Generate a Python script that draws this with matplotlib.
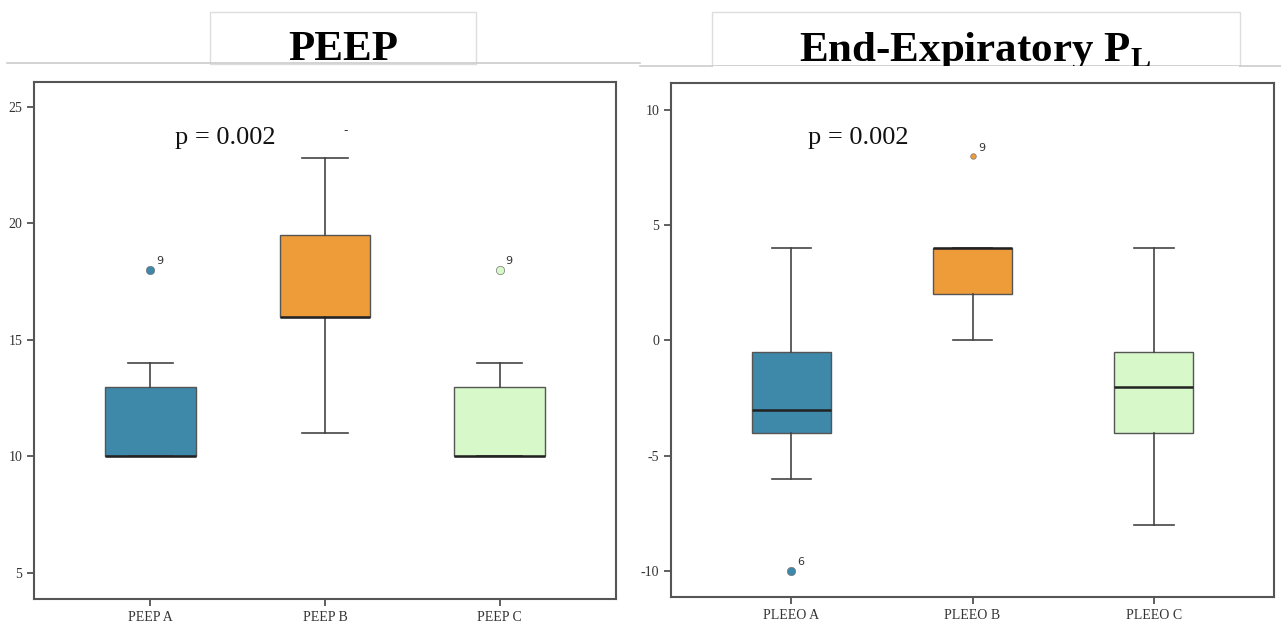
import matplotlib
matplotlib.use("Agg")
import matplotlib.pyplot as plt
from matplotlib.patches import Rectangle
from matplotlib.lines import Line2D

# box summary values
peep_labels = ["PEEP A", "PEEP B", "PEEP C"]
peep_q1 = [10, 16, 10]
peep_med = [10, 16, 10]
peep_q3 = [13, 19.5, 13]
peep_lo = [10, 11, 10]
peep_hi = [14, 22.8, 14]
peep_out = [[18], [], [18]]
peep_out_ids = [["9"], [], ["9"]]

pleeo_labels = ["PLEEO A", "PLEEO B", "PLEEO C"]
pleeo_q1 = [-4, 2, -4]
pleeo_med = [-3, 4, -2]
pleeo_q3 = [-0.5, 4, -0.5]
pleeo_lo = [-6, 0, -8]
pleeo_hi = [4, 4, 4]
pleeo_out = [[-10], [8], []]
pleeo_out_ids = [["6"], ["9"], []]

colors = ["#3e88aa", "#ee9b3a", "#d7f8c8"]
p_text = "p = 0.002"

W, H = 1281, 642
fig = plt.figure(figsize=(W / 100, H / 100), dpi=100)
fig.patch.set_facecolor("white")

def px(x, y):
    return x / W, 1 - y / H

def draw_panel(ax, labels, q1, med, q3, lo, hi, out, ids, width, ylim, yticks, ptxt):
    stats = []
    for i in range(len(labels)):
        stats.append(dict(label=labels[i], q1=q1[i], med=med[i], q3=q3[i],
                          whislo=lo[i], whishi=hi[i], fliers=[]))
    bp = ax.bxp(stats, positions=range(len(labels)), widths=width, patch_artist=True,
                showfliers=False,
                boxprops=dict(edgecolor="#555555", linewidth=1.0),
                medianprops=dict(color="#222222", linewidth=1.8),
                whiskerprops=dict(color="#444444", linewidth=1.2),
                capprops=dict(color="#444444", linewidth=1.2),
                capwidths=width / 2)
    for patch, c in zip(bp["boxes"], colors):
        patch.set_facecolor(c)
    for i in range(len(labels)):
        for v, t in zip(out[i], ids[i]):
            ms = 4 if i == 1 else 6
            ax.plot(i, v, "o", ms=ms, mfc=colors[i], mec="#777777", mew=0.5, zorder=4)
            ax.annotate(t, (i, v), xytext=(4, 4), textcoords="offset points",
                        fontsize=8, color="#333333", family="DejaVu Sans")
    ax.set_xlim(-0.665, 2.665)
    ax.set_ylim(*ylim)
    ax.set_yticks(yticks)
    ax.set_yticklabels([str(v) if v >= 0 else "-" + str(-v) for v in yticks])
    ax.set_xticks(range(len(labels)))
    ax.set_xticklabels(labels)
    for s in ax.spines.values():
        s.set_color("#555555")
        s.set_linewidth(1.5)
    ax.tick_params(direction="out", length=5, width=1.2, color="#444444",
                   labelsize=10, labelcolor="#333333")
    for lab in ax.get_xticklabels() + ax.get_yticklabels():
        lab.set_family("Liberation Serif")
    ax.text(ptxt[0], ptxt[1], p_text, transform=ax.transAxes, fontsize=19,
            family="Liberation Serif", va="center", ha="left", color="#111111")

ax1 = fig.add_axes([34 / W, 1 - 599 / H, 582 / W, 517 / H])
draw_panel(ax1, peep_labels, peep_q1, peep_med, peep_q3, peep_lo, peep_hi,
           peep_out, peep_out_ids, 0.52, (3.88, 26.07), [5, 10, 15, 20, 25],
           (0.242, 0.892))
# stray dash above PEEP B
ax1.text(1.12, 24, "-", fontsize=9, color="#333333", ha="center", va="center")

ax2 = fig.add_axes([671 / W, 1 - 597 / H, 603 / W, 514 / H])
draw_panel(ax2, pleeo_labels, pleeo_q1, pleeo_med, pleeo_q3, pleeo_lo, pleeo_hi,
           pleeo_out, pleeo_out_ids, 0.44, (-11.13, 11.17), [-10, -5, 0, 5, 10],
           (0.227, 0.893))

# slide-style title bands
fig.add_artist(Line2D([7 / W, 640 / W], [1 - 63 / H] * 2, color="#cccccc", lw=1.2))
fig.add_artist(Line2D([640 / W, 1281 / W], [1 - 66 / H] * 2, color="#cccccc", lw=1.2))
fig.add_artist(Rectangle(px(210, 64), 266 / W, 52 / H, facecolor="white",
                         edgecolor="#dddddd", lw=1.0))
fig.add_artist(Rectangle(px(712, 66), 528 / W, 54 / H, facecolor="white",
                         edgecolor="#dddddd", lw=1.0))

fig.text(*px(343, 60), "PEEP", fontsize=31, fontweight="bold",
         family="Liberation Serif", ha="center", va="baseline")
fig.text(*px(975, 61), r"End-Expiratory P$_\mathregular{L}$", fontsize=31,
         fontweight="bold", family="Liberation Serif", ha="center", va="baseline")
# title box cuts the subscript off
fig.add_artist(Rectangle(px(713, 80), 526 / W, 13.5 / H, facecolor="white",
                         edgecolor="none", zorder=5))

fig.savefig("out.png", dpi=100, facecolor="white")
